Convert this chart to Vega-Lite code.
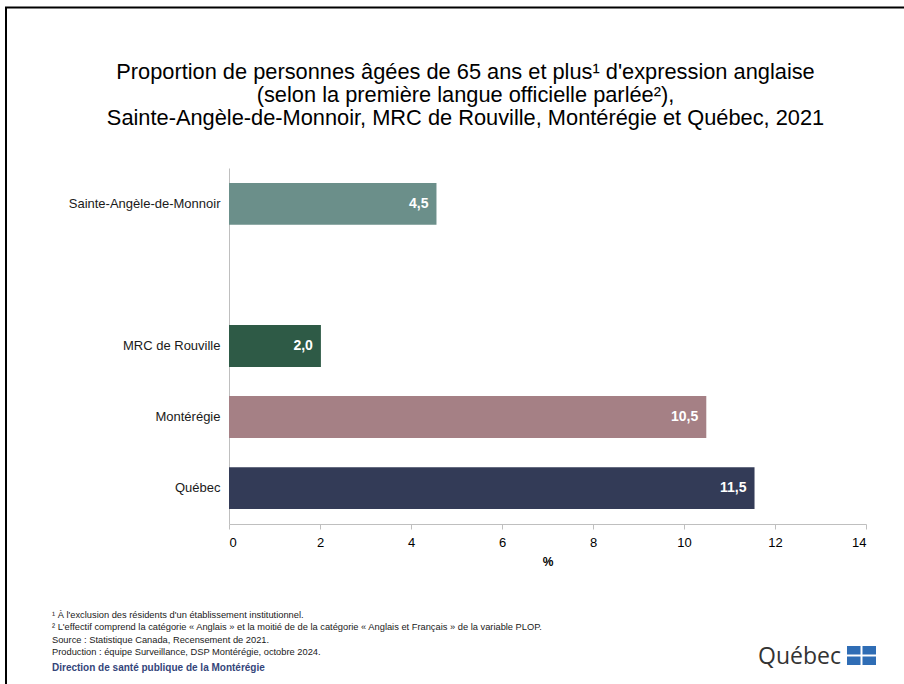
{
  "$schema": "https://vega.github.io/schema/vega-lite/v6.json",
  "autosize": {"type": "none"},
  "width": 637,
  "height": 356,
  "padding": {"left": 229, "top": 168, "right": 38, "bottom": 160},
  "background": "white",
  "title": {
    "text": ["Proportion de personnes âgées de 65 ans et plus¹ d'expression anglaise", "(selon la première langue officielle parlée²),", "Sainte-Angèle-de-Monnoir, MRC de Rouville, Montérégie et Québec, 2021"],
    "font": "Liberation Sans",
    "fontSize": 21.8,
    "fontWeight": "normal",
    "color": "#000000",
    "lineHeight": 23,
    "anchor": "middle",
    "frame": "group",
    "dx": -82,
    "dy": 124,
    "offset": 0
  },
  "config": {
    "view": {"stroke": null},
    "axis": {"labelFont": "Liberation Sans", "titleFont": "Liberation Sans", "grid": false}
  },
  "layer": [
    {
      "data": {"values": [
        {"territoire": "Sainte-Angèle-de-Monnoir", "valeur": 4.56, "etiquette": "4,5"},
        {"territoire": "MRC de Rouville", "valeur": 2.02, "etiquette": "2,0"},
        {"territoire": "Montérégie", "valeur": 10.49, "etiquette": "10,5"},
        {"territoire": "Québec", "valeur": 11.55, "etiquette": "11,5"}
      ]},
      "encoding": {
        "y": {
          "field": "territoire", "type": "nominal",
          "scale": {"domain": ["Sainte-Angèle-de-Monnoir", "", "MRC de Rouville", "Montérégie", "Québec"], "paddingInner": 0.41, "paddingOuter": 0.21},
          "axis": {"title": null, "ticks": false, "domainColor": "#BFBFBF", "domainWidth": 1, "labelFontSize": 13, "labelColor": "#1a1a1a", "labelPadding": 9}
        },
        "x": {
          "field": "valeur", "type": "quantitative",
          "scale": {"domain": [0, 14], "nice": false},
          "axis": {"title": "%", "values": [0, 2, 4, 6, 8, 10, 12, 14], "domainColor": "#BFBFBF", "tickColor": "#BFBFBF", "tickSize": 5, "labelFontSize": 13, "labelColor": "#000000", "labelPadding": 7, "titleFontSize": 12, "titleFontWeight": "bold", "titleColor": "#000000", "titlePadding": 7}
        }
      },
      "layer": [
        {
          "mark": {"type": "bar"},
          "encoding": {
            "color": {
              "field": "territoire", "type": "nominal", "legend": null,
              "scale": {"domain": ["Sainte-Angèle-de-Monnoir", "MRC de Rouville", "Montérégie", "Québec"], "range": ["#6B8F8A", "#2E5A46", "#A58085", "#333B57"]}
            }
          }
        },
        {
          "mark": {"type": "text", "align": "right", "baseline": "middle", "dx": -8, "font": "Liberation Sans", "fontWeight": "bold", "fontSize": 14, "color": "white"},
          "encoding": {"text": {"field": "etiquette"}}
        }
      ]
    },
    {
      "data": {"values": [{"note": "notes"}]},
      "layer": [
        {
          "mark": {"type": "text", "align": "left", "baseline": "alphabetic", "font": "Liberation Sans", "fontSize": 9.3, "lineHeight": 12.3, "color": "#1a1a1a"},
          "encoding": {
            "x": {"value": -177},
            "y": {"value": 450},
            "text": {"value": ["¹ À l'exclusion des résidents d'un établissement institutionnel.", "² L'effectif comprend la catégorie « Anglais » et la moitié de de la catégorie « Anglais et Français » de la variable PLOP.", "Source : Statistique Canada, Recensement de 2021.", "Production : équipe Surveillance, DSP Montérégie, octobre 2024."]}
          }
        },
        {
          "mark": {"type": "text", "align": "left", "baseline": "alphabetic", "font": "Liberation Sans", "fontSize": 10, "fontWeight": "bold", "color": "#34457A"},
          "encoding": {
            "x": {"value": -177},
            "y": {"value": 503},
            "text": {"value": "Direction de santé publique de la Montérégie"}
          }
        },
        {
          "mark": {"type": "text", "align": "left", "baseline": "alphabetic", "font": "Open Sans", "fontSize": 23, "color": "#333333"},
          "encoding": {
            "x": {"value": 529},
            "y": {"value": 496},
            "text": {"value": "Québec"}
          }
        },
        {
          "mark": {"type": "rect", "color": "#2F6DB5"},
          "encoding": {
            "x": {"value": 618}, "x2": {"value": 647},
            "y": {"value": 478}, "y2": {"value": 497}
          }
        },
        {
          "mark": {"type": "rule", "color": "white", "strokeWidth": 2},
          "encoding": {
            "x": {"value": 632.5},
            "y": {"value": 478}, "y2": {"value": 497}
          }
        },
        {
          "mark": {"type": "rule", "color": "white", "strokeWidth": 2},
          "encoding": {
            "x": {"value": 618}, "x2": {"value": 647},
            "y": {"value": 487.5}
          }
        },
        {
          "mark": {"type": "rule", "color": "#000000", "strokeWidth": 2},
          "encoding": {
            "x": {"value": -223},
            "y": {"value": -161}, "y2": {"value": 516}
          }
        },
        {
          "mark": {"type": "rule", "color": "#000000", "strokeWidth": 2},
          "encoding": {
            "x": {"value": -224}, "x2": {"value": 675},
            "y": {"value": -160.5}
          }
        }
      ]
    }
  ]
}
